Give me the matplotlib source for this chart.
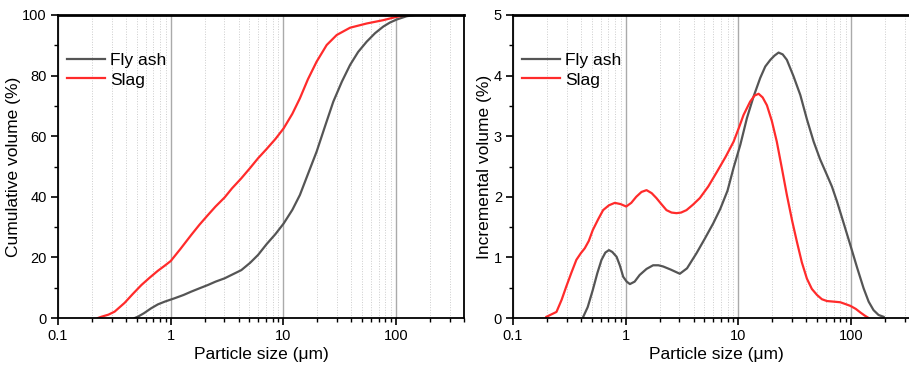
import numpy as np
import matplotlib.pyplot as plt
from matplotlib.ticker import LogLocator, FixedLocator, MultipleLocator, NullFormatter, FuncFormatter

plt.rcParams['font.family'] = ['Liberation Sans', 'DejaVu Sans']

# Cumulative volume (%) vs particle size (um)
fa_cum_x = [0.48, 0.51, 0.58, 0.67, 0.77, 0.885, 1.08, 1.3, 1.52, 1.8, 2.14, 2.5, 3.01, 3.5, 4.23, 5.06, 5.95, 7.1, 8.5, 10.05, 12, 14, 16.5, 19.7, 23.5, 27.7, 33, 39, 46, 54.8, 65, 77, 88, 101, 124, 147]
fa_cum_y = [0.0, 0.4, 1.6, 3.2, 4.5, 5.4, 6.5, 7.6, 8.7, 9.8, 10.9, 12.0, 13.1, 14.3, 15.8, 18.2, 20.8, 24.4, 27.7, 31.2, 35.7, 40.6, 47.5, 54.9, 63.5, 71.4, 78.0, 83.5, 87.8, 91.2, 94.0, 96.2, 97.5, 98.5, 99.6, 100]
sl_cum_x = [0.226, 0.242, 0.28, 0.318, 0.39, 0.46, 0.55, 0.65, 0.77, 0.88, 1.0, 1.22, 1.52, 1.8, 2.14, 2.5, 3.01, 3.5, 4.23, 5.06, 5.95, 7.1, 8.5, 10.05, 12, 14, 16.5, 19.7, 24.2, 29.7, 39, 54.8, 77, 101, 124]
sl_cum_y = [0.0, 0.4, 1.1, 2.1, 5.0, 7.9, 10.9, 13.3, 15.6, 17.2, 18.8, 22.8, 27.4, 30.8, 34.0, 36.8, 39.8, 42.8, 46.1, 49.5, 52.7, 55.8, 59.1, 62.6, 67.4, 72.5, 78.8, 84.6, 90.1, 93.4, 95.8, 97.2, 98.3, 99.4, 100]

# Incremental volume (%) vs particle size (um)
fa_inc_x = [0.42, 0.46, 0.51, 0.56, 0.61, 0.66, 0.71, 0.76, 0.83, 0.89, 0.95, 1.02, 1.09, 1.2, 1.33, 1.53, 1.75, 1.95, 2.15, 2.5, 3.02, 3.5, 4.25, 5.0, 5.97, 6.9, 8.0, 9.06, 10.4, 11.9, 13.6, 15.6, 17.3, 19.2, 20.9, 22.7, 24.7, 26.9, 30.8, 35.4, 40.5, 46.5, 53, 61, 67.5, 75, 86, 98.5, 113, 129, 143, 158, 175, 194]
fa_inc_y = [0.02, 0.18, 0.46, 0.74, 0.96, 1.08, 1.12, 1.09, 1.01, 0.86, 0.68, 0.6, 0.56, 0.6, 0.71, 0.81, 0.87, 0.87, 0.85, 0.8, 0.73, 0.82, 1.07, 1.3, 1.56, 1.8, 2.1, 2.48, 2.86, 3.3, 3.65, 3.96, 4.15, 4.26, 4.33, 4.38, 4.35, 4.26, 3.99, 3.68, 3.28, 2.91, 2.62, 2.36, 2.17, 1.92, 1.56, 1.2, 0.83, 0.49, 0.27, 0.13, 0.05, 0.02]
sl_inc_x = [0.198, 0.243, 0.27, 0.297, 0.33, 0.365, 0.4, 0.433, 0.47, 0.51, 0.57, 0.63, 0.71, 0.8, 0.9, 1.01, 1.12, 1.24, 1.38, 1.53, 1.7, 1.87, 2.07, 2.3, 2.55, 2.82, 3.1, 3.46, 3.95, 4.55, 5.4, 6.44, 7.7, 9.06, 10.1, 11.1, 12.7, 13.9, 15.1, 16.4, 17.9, 19.8, 21.9, 24.3, 26.9, 30, 33, 36.5, 40.5, 44.8, 49.8, 55, 61, 70, 80, 89, 98.5, 110, 121, 132, 143]
sl_inc_y = [0.02, 0.1, 0.3, 0.52, 0.75, 0.96, 1.07, 1.15, 1.27, 1.45, 1.63, 1.78, 1.86, 1.9, 1.88, 1.84, 1.9, 2.0, 2.08, 2.11, 2.06, 1.98, 1.88, 1.78, 1.74, 1.73, 1.74, 1.78, 1.87, 1.98, 2.17, 2.41, 2.66, 2.91, 3.14, 3.35, 3.57, 3.67, 3.7, 3.64, 3.51, 3.25, 2.91, 2.47, 2.03, 1.6, 1.26, 0.92, 0.65, 0.48, 0.38, 0.31, 0.28, 0.27, 0.26, 0.23, 0.2, 0.15, 0.09, 0.04, 0.0]

c_fa = '#555555'
c_sl = '#ff2b2b'

fig = plt.figure(figsize=(9.09, 3.65), dpi=100)
W, H = 909, 365
ax1 = fig.add_axes([58/W, 1 - 318/H, (464 - 58)/W, (318 - 15)/H])
ax2 = fig.add_axes([513/W, 1 - 318/H, (919 - 513)/W, (318 - 15)/H])

def style(ax, ymax, ystep, ylabel):
    ax.set_xscale('log')
    ax.set_xlim(0.1, 400)
    ax.set_ylim(0, ymax)
    ax.xaxis.set_major_locator(FixedLocator([0.1, 1, 10, 100]))
    ax.xaxis.set_major_formatter(FuncFormatter(lambda v, p: '%g' % v))
    ax.xaxis.set_minor_locator(LogLocator(base=10, subs=np.arange(2, 10)))
    ax.xaxis.set_minor_formatter(NullFormatter())
    ax.yaxis.set_major_locator(MultipleLocator(ystep))
    ax.yaxis.set_minor_locator(MultipleLocator(ystep / 2))
    ax.grid(True, which='major', axis='x', color='#aaaaaa', lw=1.0)
    ax.grid(True, which='minor', axis='x', color='#cccccc', lw=0.7, ls=':')
    ax.tick_params(which='major', direction='out', length=5, width=1.2, labelsize=10.5, top=False, right=False, pad=3)
    ax.tick_params(which='minor', direction='out', length=3, width=1.0, top=False, right=False)
    for s in ax.spines.values():
        s.set_linewidth(1.3)
    ax.spines['top'].set_linewidth(2)
    ax.set_xlabel('Particle size (\u03bcm)', fontsize=12.5, labelpad=3)
    ax.set_ylabel(ylabel, fontsize=12.5, labelpad=1)
    ax.set_axisbelow(True)

ax1.plot(fa_cum_x, fa_cum_y, color=c_fa, lw=1.6, label='Fly ash')
ax1.plot(sl_cum_x, sl_cum_y, color=c_sl, lw=1.6, label='Slag')
style(ax1, 100, 20, 'Cumulative volume (%)')

ax2.plot(fa_inc_x, fa_inc_y, color=c_fa, lw=1.6, label='Fly ash')
ax2.plot(sl_inc_x, sl_inc_y, color=c_sl, lw=1.6, label='Slag')
style(ax2, 5, 1, 'Incremental volume (%)')

for ax in (ax1, ax2):
    ax.legend(loc='upper left', bbox_to_anchor=(0.022, 0.876), frameon=False, fontsize=12.5,
              handlelength=2.2, handletextpad=0.3, labelspacing=0.27, borderaxespad=0, borderpad=0)

fig.savefig('out.png', dpi=100)
